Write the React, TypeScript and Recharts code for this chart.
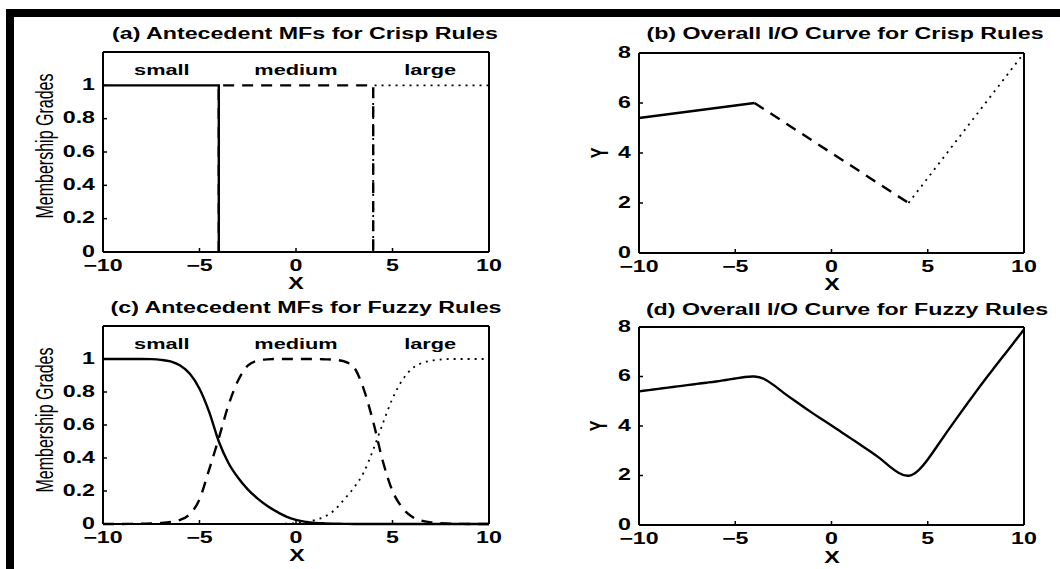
import React from 'react'
import { ComposedChart, Line, XAxis, YAxis, ReferenceDot } from 'recharts'

const W = 1060
const H = 569
const STRETCH = 1.45
const FONT = '"Liberation Sans", Arial, Helvetica, sans-serif'

const xTicks = [-10, -5, 0, 5, 10]
const mfTicks = [0, 0.2, 0.4, 0.6, 0.8, 1]
const outTicks = [0, 2, 4, 6, 8]

const mfNames = ['small', 'medium', 'large']
const mfNameX = [-6.95, 0, 6.95]

// (a) crisp membership functions
const crispSmallX = [-10, -4, -4]
const crispSmallY = [1, 1, 0]
const crispMediumX = [-4, -4, 4, 4]
const crispMediumY = [0, 1, 1, 0]
const crispLargeX = [4, 4, 10]
const crispLargeY = [0, 1, 1]

// (b) crisp input/output curve
const crispOutSmallX = [-10, -4]
const crispOutSmallY = [5.4, 6]
const crispOutMediumX = [-4, 4]
const crispOutMediumY = [6, 2]
const crispOutLargeX = [4, 10]
const crispOutLargeY = [2, 8]

// (c), (d) fuzzy rules, read every 0.5 along x
const xGrid = [
  -10, -9.5, -9, -8.5, -8, -7.5, -7, -6.5, -6, -5.5, -5, -4.5, -4, -3.5, -3, -2.5, -2, -1.5, -1, -0.5,
  0, 0.5, 1, 1.5, 2, 2.5, 3, 3.5, 4, 4.5, 5, 5.5, 6, 6.5, 7, 7.5, 8, 8.5, 9, 9.5, 10,
]
const fuzzySmall = [
  1, 1, 1, 1, 1, 0.999, 0.995, 0.985, 0.96, 0.91, 0.82, 0.68, 0.5, 0.37, 0.28, 0.21, 0.155, 0.11, 0.075, 0.045,
  0.025, 0.013, 0.007, 0.004, 0.002, 0.001, 0, 0, 0, 0, 0, 0, 0, 0, 0, 0, 0, 0, 0, 0, 0,
]
const fuzzyMedium = [
  0, 0, 0, 0.001, 0.002, 0.003, 0.006, 0.012, 0.025, 0.06, 0.15, 0.33, 0.52, 0.72, 0.87, 0.96, 0.99, 0.998, 1, 1,
  1, 1, 1, 0.998, 0.995, 0.985, 0.95, 0.82, 0.62, 0.38, 0.2, 0.1, 0.045, 0.02, 0.01, 0.005, 0.002, 0.001, 0, 0, 0,
]
const fuzzyLarge = [
  0, 0, 0, 0, 0, 0, 0, 0, 0, 0, 0, 0, 0, 0, 0, 0, 0, 0, 0.001, 0.002,
  0.005, 0.012, 0.025, 0.045, 0.085, 0.15, 0.22, 0.31, 0.45, 0.61, 0.76, 0.87, 0.94, 0.975, 0.99, 0.997, 1, 1, 1, 1, 1,
]
const fuzzyOut = [
  5.4, 5.45, 5.5, 5.55, 5.6, 5.65, 5.7, 5.75, 5.8, 5.86, 5.92, 5.98, 6.0, 5.9, 5.65, 5.35, 5.07, 4.8, 4.53, 4.27,
  4.02, 3.76, 3.5, 3.24, 2.98, 2.7, 2.38, 2.1, 1.99, 2.2, 2.65, 3.2, 3.76, 4.31, 4.85, 5.38, 5.9, 6.4, 6.9, 7.4, 7.9,
]

type Pt = { x: number; y: number }
const toPts = (xs: number[], ys: number[]): Pt[] => xs.map((x, i) => ({ x, y: ys[i] }))

const SOLID = undefined
const DASH = '11 8'
const DOT = '2 5'

type Series = { data: Pt[]; dash?: string; curve?: 'linear' | 'monotone' | 'natural' }

const fmt = (v: number) => (v < 0 ? '\u2212' + Math.abs(v) : String(v))

const BottomTick = (p: any) => (
  <g transform={`translate(${p.x},${p.y}) scale(${STRETCH},1)`}>
    <text textAnchor="middle" dy="0.71em" fontSize={16} fontWeight="bold" fill="#000" fontFamily={FONT}>
      {fmt(p.payload.value)}
    </text>
  </g>
)

const LeftTick = (p: any) => (
  <g transform={`translate(${p.x},${p.y}) scale(${STRETCH},1)`}>
    <text textAnchor="end" dy="0.3em" fontSize={16} fontWeight="bold" fill="#000" fontFamily={FONT}>
      {fmt(p.payload.value)}
    </text>
  </g>
)

const NameShape = (name: string) => (p: any) => (
  <g transform={`translate(${p.cx},${p.cy}) scale(${STRETCH},1)`}>
    <text textAnchor="middle" fontSize={15} fontWeight="bold" fill="#000" fontFamily={FONT}>
      {name}
    </text>
  </g>
)

const axisLine = { stroke: '#000', strokeWidth: 2 }
const tickLine = { stroke: '#000', strokeWidth: 1.5 }

function Panel({
  plot,
  yDomain,
  yTicks,
  series,
  names,
}: {
  plot: [number, number, number, number]
  yDomain: [number, number]
  yTicks: number[]
  series: Series[]
  names?: boolean
}) {
  const [pl, pt, pr, pb] = plot
  return (
    <div style={{ position: 'absolute', left: 0, top: 0 }}>
      <ComposedChart
        width={W}
        height={H}
        margin={{ left: pl - 1, top: pt - 1, right: W - pr - 1, bottom: H - pb - 1 }}
      >
        <XAxis
          type="number"
          dataKey="x"
          domain={[-10, 10]}
          ticks={xTicks}
          height={1}
          tickSize={-4}
          tickMargin={12}
          axisLine={axisLine}
          tickLine={tickLine}
          tick={BottomTick}
          interval={0}
        />
        <XAxis
          xAxisId="top"
          orientation="top"
          type="number"
          dataKey="x"
          domain={[-10, 10]}
          ticks={xTicks}
          height={1}
          tickSize={-4}
          axisLine={axisLine}
          tickLine={tickLine}
          tick={false}
        />
        <YAxis
          type="number"
          domain={yDomain}
          ticks={yTicks}
          width={1}
          tickSize={-4}
          tickMargin={12}
          axisLine={axisLine}
          tickLine={tickLine}
          tick={LeftTick}
          interval={0}
        />
        <YAxis
          yAxisId="right"
          orientation="right"
          type="number"
          domain={yDomain}
          ticks={yTicks}
          width={1}
          tickSize={-4}
          axisLine={axisLine}
          tickLine={tickLine}
          tick={false}
        />
        {series.map((s, i) => (
          <Line
            key={i}
            data={s.data}
            dataKey="y"
            type={s.curve ?? 'linear'}
            stroke="#000"
            strokeWidth={s.dash === DOT ? 1.8 : 2.4}
            strokeDasharray={s.dash}
            dot={false}
            activeDot={false}
            isAnimationActive={false}
          />
        ))}
        {names &&
          mfNames.map((n, i) => (
            <ReferenceDot key={n} x={mfNameX[i]} y={1.06} r={0} shape={NameShape(n)} />
          ))}
      </ComposedChart>
    </div>
  )
}

function Txt({
  x,
  y,
  children,
  size = 16,
  bold = true,
  rotate = false,
}: {
  x: number
  y: number
  children: React.ReactNode
  size?: number
  bold?: boolean
  rotate?: boolean
}) {
  return (
    <div
      style={{
        position: 'absolute',
        left: x,
        top: y,
        transform: `translate(-50%,-50%) scaleX(${STRETCH})${rotate ? ' rotate(-90deg)' : ''}`,
        whiteSpace: 'nowrap',
        fontFamily: FONT,
        fontSize: size,
        fontWeight: bold ? 'bold' : 'normal',
        color: '#000',
        lineHeight: 1,
      }}
    >
      {children}
    </div>
  )
}

export default function App() {
  return (
    <div style={{ position: 'relative', width: W, height: H, background: '#fff', overflow: 'hidden' }}>
      <style>{'body{margin:0}'}</style>
      <div style={{ position: 'absolute', left: 6, top: 9, width: W - 6, height: 8, background: '#000' }} />
      <div style={{ position: 'absolute', left: 6, top: 9, width: 8, height: H - 9, background: '#000' }} />

      <Panel
        plot={[103, 52, 489, 252]}
        yDomain={[0, 1.2]}
        yTicks={mfTicks}
        names
        series={[
          { data: toPts(crispSmallX, crispSmallY), dash: SOLID },
          { data: toPts(crispMediumX, crispMediumY), dash: DASH },
          { data: toPts(crispLargeX, crispLargeY), dash: DOT },
        ]}
      />
      <Panel
        plot={[639, 53, 1024, 253]}
        yDomain={[0, 8]}
        yTicks={outTicks}
        series={[
          { data: toPts(crispOutSmallX, crispOutSmallY), dash: SOLID },
          { data: toPts(crispOutMediumX, crispOutMediumY), dash: DASH },
          { data: toPts(crispOutLargeX, crispOutLargeY), dash: DOT },
        ]}
      />
      <Panel
        plot={[103, 326, 489, 524]}
        yDomain={[0, 1.2]}
        yTicks={mfTicks}
        names
        series={[
          { data: toPts(xGrid, fuzzySmall), dash: SOLID, curve: 'monotone' },
          { data: toPts(xGrid, fuzzyMedium), dash: DASH, curve: 'monotone' },
          { data: toPts(xGrid, fuzzyLarge), dash: DOT, curve: 'monotone' },
        ]}
      />
      <Panel
        plot={[639, 327, 1024, 525]}
        yDomain={[0, 8]}
        yTicks={outTicks}
        series={[{ data: toPts(xGrid, fuzzyOut), dash: SOLID, curve: 'natural' }]}
      />

      <Txt x={304.5} y={34}>(a) Antecedent MFs for Crisp Rules</Txt>
      <Txt x={844.5} y={34}>(b) Overall I/O Curve for Crisp Rules</Txt>
      <Txt x={306} y={308}>(c) Antecedent MFs for Fuzzy Rules</Txt>
      <Txt x={846.5} y={310}>(d) Overall I/O Curve for Fuzzy Rules</Txt>

      <Txt x={296} y={284}>X</Txt>
      <Txt x={832} y={285}>X</Txt>
      <Txt x={297} y={556}>X</Txt>
      <Txt x={832} y={558}>X</Txt>

      <Txt x={46} y={146} rotate bold={false}>Membership Grades</Txt>
      <Txt x={46} y={420} rotate bold={false}>Membership Grades</Txt>
      <Txt x={601} y={153} rotate>Y</Txt>
      <Txt x={600} y={426} rotate>Y</Txt>
    </div>
  )
}
